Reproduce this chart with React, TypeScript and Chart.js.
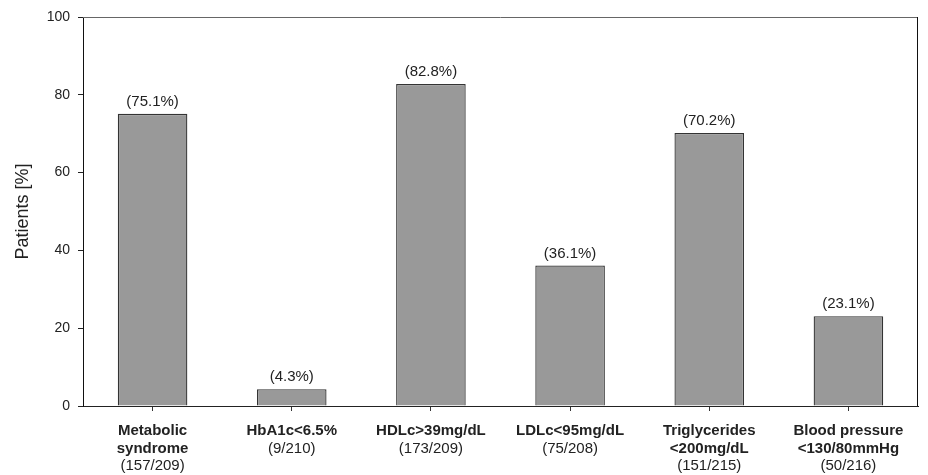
import React, { useEffect, useRef } from "react";
import { Chart, registerables } from "chart.js";

Chart.register(...registerables);

const categories: string[][] = [
  ["Metabolic", "syndrome"],
  ["HbA1c<6.5%"],
  ["HDLc>39mg/dL"],
  ["LDLc<95mg/dL"],
  ["Triglycerides", "<200mg/dL"],
  ["Blood pressure", "<130/80mmHg"],
];
const counts: string[] = ["(157/209)", "(9/210)", "(173/209)", "(75/208)", "(151/215)", "(50/216)"];
const percentages: number[] = [75.1, 4.3, 82.8, 36.1, 70.2, 23.1];
const valueLabels: string[] = ["(75.1%)", "(4.3%)", "(82.8%)", "(36.1%)", "(70.2%)", "(23.1%)"];
const yTicks: number[] = [0, 20, 40, 60, 80, 100];

const FONT = "'Liberation Sans', Arial, Helvetica, sans-serif";

const customPlugin = {
  id: "customLabels",
  afterDraw(chart: any) {
    const ctx = chart.ctx;
    const area = chart.chartArea;
    const xs = chart.scales.x;
    const meta = chart.getDatasetMeta(0);
    ctx.save();
    ctx.lineWidth = 1;
    ctx.strokeStyle = "#666";
    ctx.beginPath();
    ctx.moveTo(area.left, area.top + 0.5);
    ctx.lineTo(area.right, area.top + 0.5);
    ctx.stroke();
    ctx.strokeStyle = "#111";
    ctx.beginPath();
    ctx.moveTo(area.right - 0.5, area.top);
    ctx.lineTo(area.right - 0.5, area.bottom);
    ctx.stroke();

    ctx.fillStyle = "#222";
    ctx.textAlign = "center";
    ctx.textBaseline = "alphabetic";
    ctx.font = `15px ${FONT}`;
    meta.data.forEach((bar: any, i: number) => {
      ctx.fillText(valueLabels[i], bar.x, bar.y - 8);
    });

    categories.forEach((lines, i) => {
      const x = xs.getPixelForTick(i);
      let y = 431;
      ctx.textBaseline = "middle";
      ctx.font = `bold 15px ${FONT}`;
      lines.forEach((ln) => {
        ctx.fillText(ln, x, y);
        y += 17.5;
      });
      ctx.font = `15px ${FONT}`;
      ctx.fillText(counts[i], x, y);
    });
    ctx.restore();
  },
};

export default function App() {
  const ref = useRef<HTMLCanvasElement | null>(null);
  useEffect(() => {
    if (!ref.current) return;
    const chart = new Chart(ref.current, {
      type: "bar",
      data: {
        labels: categories.map((c) => c.join(" ")),
        datasets: [
          {
            data: percentages,
            backgroundColor: "#999999",
            borderColor: "#333333",
            borderWidth: 1.3,
            borderSkipped: "bottom",
            barPercentage: 0.5,
            categoryPercentage: 1.0,
          },
        ],
      },
      options: {
        animation: false,
        responsive: true,
        maintainAspectRatio: false,
        layout: { padding: { top: 17, right: 10, left: 0, bottom: 0 } },
        plugins: { legend: { display: false }, tooltip: { enabled: false } },
        scales: {
          x: {
            offset: true,
            grid: {
              offset: false,
              drawOnChartArea: false,
              drawTicks: true,
              tickLength: 5,
              color: "#333",
            },
            border: { display: true, color: "#222", width: 1 },
            ticks: { display: false },
            afterFit(scale: any) {
              scale.height = 69;
            },
          },
          y: {
            min: 0,
            max: 100,
            afterBuildTicks(scale: any) {
              scale.ticks = yTicks.map((v) => ({ value: v }));
            },
            grid: {
              drawOnChartArea: false,
              drawTicks: true,
              tickLength: 5,
              color: "#222",
            },
            border: { display: true, color: "#111", width: 1 },
            ticks: {
              font: { family: FONT, size: 14 },
              color: "#222",
              padding: 8,
            },
            title: {
              display: true,
              text: "Patients [%]",
              font: { family: FONT, size: 18 },
              color: "#222",
              padding: { top: 12, bottom: 0 },
            },
            afterFit(scale: any) {
              scale.width = 83;
            },
          },
        },
      },
      plugins: [customPlugin],
    });
    return () => chart.destroy();
  }, []);
  return (
    <div style={{ position: "fixed", left: 0, top: 0, width: 928, height: 475, background: "#fff" }}>
      <canvas ref={ref} />
    </div>
  );
}
